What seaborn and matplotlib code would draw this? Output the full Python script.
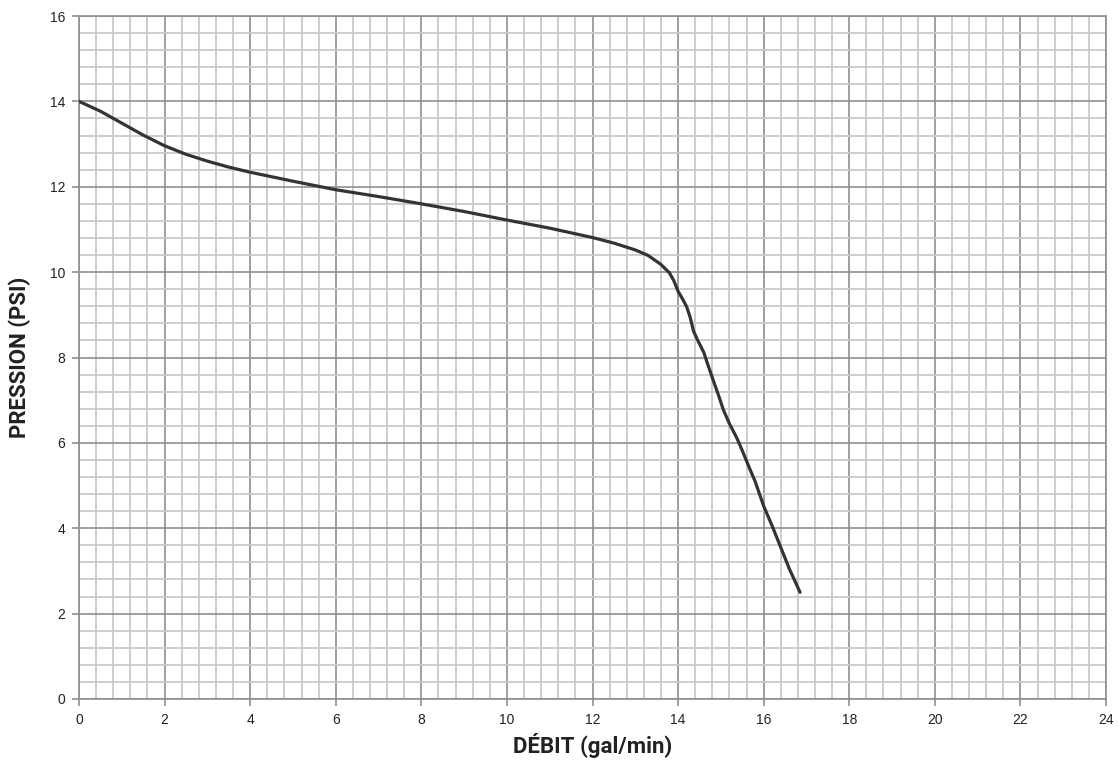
import matplotlib
matplotlib.use("Agg")
import matplotlib.pyplot as plt
import seaborn as sns
import numpy as np
import pandas as pd
from matplotlib.ticker import MultipleLocator

# Data
flow = [0.0, 0.5, 1.0, 1.5, 2.0, 2.5, 3.0, 3.5, 4.0, 5.0, 6.0, 7.0, 8.0, 9.0, 10.0, 11.0,
        12.0, 12.5, 13.0, 13.3, 13.6, 13.8, 13.9, 14.0, 14.1, 14.2, 14.28, 14.36, 14.45,
        14.6, 14.7, 14.82, 14.95, 15.06, 15.2, 15.37, 15.5, 15.68, 15.8, 16.0, 16.2,
        16.4, 16.6, 16.85]
pressure = [14.0, 13.77, 13.49, 13.21, 12.96, 12.76, 12.6, 12.46, 12.34, 12.13, 11.93, 11.77,
            11.6, 11.42, 11.22, 11.03, 10.81, 10.68, 10.52, 10.39, 10.18, 9.98, 9.8, 9.55,
            9.38, 9.19, 8.95, 8.62, 8.42, 8.12, 7.82, 7.47, 7.1, 6.77, 6.45, 6.12, 5.82, 5.38,
            5.1, 4.52, 4.05, 3.55, 3.05, 2.5]
xlabel = "DÉBIT (gal/min)"
ylabel = "PRESSION (PSI)"

df = pd.DataFrame({"flow": flow, "pressure": pressure})

sns.set_theme(style="white")
plt.rcParams["font.family"] = ["Liberation Sans", "DejaVu Sans"]

fig = plt.figure(figsize=(11.18, 7.70), dpi=100)
ax = fig.add_axes([79 / 1118, 71 / 770, 1027 / 1118, 683 / 770])

ax.set_xlim(0, 24)
ax.set_ylim(0, 16)
ax.xaxis.set_major_locator(MultipleLocator(2))
ax.yaxis.set_major_locator(MultipleLocator(2))
ax.xaxis.set_minor_locator(MultipleLocator(0.4))
ax.yaxis.set_minor_locator(MultipleLocator(0.4))
ax.grid(which="minor", color="#c9c9c9", linewidth=1.3, zorder=0)
ax.grid(which="major", color="#8f8f8f", linewidth=1.2, zorder=1)
ax.set_axisbelow(True)

sns.lineplot(data=df, x="flow", y="pressure", ax=ax, color="#333333",
             linewidth=2.3, sort=False, estimator=None, zorder=3)

for s in ax.spines.values():
    s.set_color("#8f8f8f")
    s.set_linewidth(1.2)

ax.tick_params(axis="both", which="major", direction="out", length=5, width=1.2,
               color="#8f8f8f", labelsize=10, labelcolor="#222222", pad=5,
               bottom=True, left=True)
ax.tick_params(axis="both", which="minor", length=0)

lab_font = dict(family=["Roboto", "DejaVu Sans"], fontweight="bold",
                fontsize=16, color="#222222")
ax.set_xlabel(xlabel, va="center", **lab_font)
ax.set_ylabel(ylabel, va="center", **lab_font)
ax.xaxis.set_label_coords(0.5, -46 / 683)
ax.yaxis.set_label_coords(-59 / 1027, 0.5)

fig.savefig("out.png", dpi=100)
